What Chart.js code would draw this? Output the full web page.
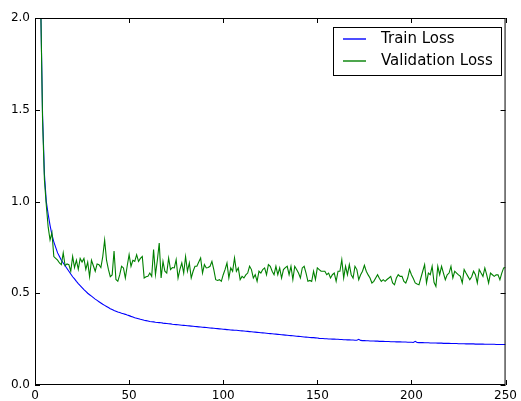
<!DOCTYPE html>
<html>
<head>
<meta charset="utf-8">
<script src="https://cdn.jsdelivr.net/npm/chart.js@4/dist/chart.umd.min.js"></script>
<style>
  body { margin: 0; background: #fff; }
  canvas { display: block; }
</style>
</head>
<body>
<canvas id="lossChart" width="521" height="401"></canvas>
<script>
// epochs 1..250
var epochs = Array.from({ length: 250 }, function (_, i) { return i + 1; });

var trainLoss = [
  4.10, 2.90, 2.10, 1.48, 1.15, 1.00, 0.93, 0.87, 0.82, 0.78,
  0.75, 0.72, 0.70, 0.68, 0.665, 0.65, 0.635, 0.62, 0.605, 0.59,
  0.578, 0.565, 0.553, 0.542, 0.531, 0.52, 0.51, 0.50, 0.492, 0.484,
  0.476, 0.468, 0.461, 0.454, 0.447, 0.440, 0.434, 0.428, 0.422, 0.416,
  0.411, 0.406, 0.402, 0.398, 0.395, 0.391, 0.388, 0.385, 0.381, 0.378,
  0.374, 0.371, 0.367, 0.364, 0.361, 0.358, 0.356, 0.353, 0.351, 0.349,
  0.346, 0.345, 0.344, 0.342, 0.341, 0.340, 0.339, 0.337, 0.336, 0.335,
  0.334, 0.333, 0.331, 0.330, 0.329, 0.328, 0.327, 0.326, 0.325, 0.324,
  0.323, 0.322, 0.321, 0.320, 0.319, 0.318, 0.317, 0.316, 0.315, 0.314,
  0.313, 0.312, 0.311, 0.310, 0.309, 0.308, 0.307, 0.306, 0.305, 0.304,
  0.303, 0.302, 0.301, 0.300, 0.299, 0.298, 0.298, 0.297, 0.296, 0.295,
  0.294, 0.293, 0.292, 0.291, 0.290, 0.289, 0.288, 0.287, 0.286, 0.285,
  0.284, 0.283, 0.282, 0.281, 0.280, 0.279, 0.278, 0.277, 0.276, 0.275,
  0.274, 0.273, 0.272, 0.271, 0.270, 0.269, 0.268, 0.267, 0.266, 0.265,
  0.264, 0.263, 0.262, 0.261, 0.260, 0.259, 0.258, 0.258, 0.257, 0.256,
  0.254, 0.253, 0.253, 0.252, 0.252, 0.251, 0.251, 0.250, 0.250, 0.249,
  0.249, 0.248, 0.248, 0.247, 0.247, 0.246, 0.246, 0.245, 0.245, 0.244,
  0.244, 0.249, 0.243, 0.242, 0.242, 0.241, 0.241, 0.240, 0.240, 0.240,
  0.239, 0.239, 0.238, 0.238, 0.238, 0.237, 0.237, 0.237, 0.236, 0.236,
  0.236, 0.235, 0.235, 0.235, 0.234, 0.234, 0.234, 0.233, 0.233, 0.233,
  0.232, 0.238, 0.232, 0.231, 0.231, 0.231, 0.230, 0.230, 0.230, 0.229,
  0.229, 0.229, 0.229, 0.228, 0.228, 0.228, 0.227, 0.227, 0.227, 0.227,
  0.226, 0.226, 0.226, 0.226, 0.225, 0.225, 0.225, 0.225, 0.224, 0.224,
  0.224, 0.224, 0.224, 0.223, 0.223, 0.223, 0.223, 0.223, 0.222, 0.222,
  0.222, 0.222, 0.222, 0.222, 0.221, 0.221, 0.221, 0.221, 0.221, 0.221
];

var valLoss = [
  3.20, 2.40, 2.10, 1.45, 1.12, 0.98, 0.86, 0.79, 0.83, 0.70,
  0.69, 0.68, 0.665, 0.656, 0.72, 0.65, 0.66, 0.656, 0.62, 0.70,
  0.64, 0.68, 0.63, 0.69, 0.67, 0.69, 0.63, 0.67, 0.59, 0.68,
  0.65, 0.62, 0.66, 0.656, 0.64, 0.70, 0.79, 0.68, 0.63, 0.59,
  0.60, 0.73, 0.575, 0.565, 0.60, 0.647, 0.638, 0.583, 0.65, 0.71,
  0.647, 0.68, 0.674, 0.71, 0.674, 0.69, 0.70, 0.583, 0.59, 0.592,
  0.61, 0.592, 0.738, 0.601, 0.68, 0.774, 0.583, 0.674, 0.62, 0.61,
  0.692, 0.629, 0.64, 0.638, 0.683, 0.583, 0.63, 0.665, 0.61, 0.70,
  0.62, 0.665, 0.583, 0.62, 0.647, 0.647, 0.67, 0.692, 0.61, 0.656,
  0.638, 0.64, 0.647, 0.674, 0.629, 0.574, 0.57, 0.574, 0.565, 0.601,
  0.63, 0.665, 0.583, 0.638, 0.62, 0.692, 0.62, 0.638, 0.574, 0.592,
  0.583, 0.60, 0.61, 0.647, 0.629, 0.583, 0.601, 0.565, 0.62, 0.61,
  0.629, 0.638, 0.601, 0.656, 0.647, 0.62, 0.601, 0.647, 0.601, 0.638,
  0.583, 0.629, 0.64, 0.647, 0.601, 0.647, 0.574, 0.647, 0.63, 0.61,
  0.583, 0.638, 0.647, 0.61, 0.565, 0.57, 0.565, 0.62, 0.574, 0.638,
  0.629, 0.62, 0.62, 0.62, 0.601, 0.61, 0.583, 0.601, 0.61, 0.565,
  0.62, 0.62, 0.683, 0.583, 0.647, 0.601, 0.656, 0.601, 0.583, 0.647,
  0.629, 0.574, 0.601, 0.62, 0.652, 0.62, 0.60, 0.583, 0.556, 0.565,
  0.583, 0.601, 0.58, 0.565, 0.574, 0.565, 0.575, 0.583, 0.592, 0.556,
  0.546, 0.583, 0.601, 0.592, 0.592, 0.565, 0.556, 0.583, 0.629, 0.601,
  0.58, 0.556, 0.55, 0.546, 0.583, 0.62, 0.656, 0.556, 0.61, 0.601,
  0.647, 0.56, 0.537, 0.647, 0.601, 0.647, 0.61, 0.574, 0.601, 0.61,
  0.647, 0.583, 0.62, 0.61, 0.60, 0.592, 0.556, 0.629, 0.61, 0.592,
  0.574, 0.59, 0.62, 0.601, 0.556, 0.629, 0.61, 0.592, 0.638, 0.60,
  0.556, 0.61, 0.601, 0.592, 0.60, 0.601, 0.574, 0.61, 0.638, 0.64
];

var seriesNames = ['Train Loss', 'Validation Loss'];
var seriesColors = ['#0000ff', '#008000'];

var xTicks = [0, 50, 100, 150, 200, 250];
var yTicks = [0.0, 0.5, 1.0, 1.5, 2.0];

function toPoints(values) {
  return values.map(function (v, i) { return { x: epochs[i], y: v }; });
}

// matplotlib-ish frame, inward ticks on all four sides, boxed legend
var frameAndLegend = {
  id: 'frameAndLegend',
  afterDatasetsDraw: function (chart) {
    var ctx = chart.ctx;
    var a = chart.chartArea;
    var xs = chart.scales.x, ys = chart.scales.y;
    ctx.save();
    ctx.strokeStyle = '#000';
    ctx.lineWidth = 1;
    ctx.strokeRect(a.left + 0.5, a.top + 0.5, a.right - a.left - 1, a.bottom - a.top - 1);

    var tl = 5;
    ctx.beginPath();
    xTicks.forEach(function (t) {
      var px = Math.round(xs.getPixelForValue(t)) + 0.5;
      ctx.moveTo(px, a.bottom); ctx.lineTo(px, a.bottom - tl);
      ctx.moveTo(px, a.top); ctx.lineTo(px, a.top + tl);
    });
    yTicks.forEach(function (t) {
      var py = Math.round(ys.getPixelForValue(t)) + 0.5;
      ctx.moveTo(a.left, py); ctx.lineTo(a.left + tl, py);
      ctx.moveTo(a.right, py); ctx.lineTo(a.right - tl, py);
    });
    ctx.stroke();

    // legend
    ctx.fillStyle = '#fff';
    ctx.fillRect(333, 27, 168, 48);
    ctx.strokeStyle = '#000';
    ctx.strokeRect(333.5, 27.5, 168, 48);
    ctx.font = '15px "DejaVu Sans"';
    ctx.textBaseline = 'middle';
    seriesNames.forEach(function (name, i) {
      var y = 39 + i * 22;
      ctx.beginPath();
      ctx.strokeStyle = seriesColors[i];
      ctx.lineWidth = 1.4;
      ctx.moveTo(343, y);
      ctx.lineTo(366, y);
      ctx.stroke();
      ctx.fillStyle = '#000';
      ctx.fillText(name, 381, y);
    });
    ctx.restore();
  }
};

var ctx = document.getElementById('lossChart').getContext('2d');
var lossChart = new Chart(ctx, {
  type: 'line',
  data: {
    datasets: [{
      label: seriesNames[0],
      data: toPoints(trainLoss),
      borderColor: seriesColors[0],
      borderWidth: 1.1,
      pointRadius: 0,
      order: 1
    }, {
      label: seriesNames[1],
      data: toPoints(valLoss),
      borderColor: seriesColors[1],
      borderWidth: 1.1,
      pointRadius: 0,
      order: 0
    }]
  },
  options: {
    responsive: false,
    animation: false,
    devicePixelRatio: 1,
    layout: {
      padding: { left: 0, right: 13, top: 18, bottom: 0 }
    },
    plugins: {
      legend: { display: false },
      tooltip: { enabled: false }
    },
    scales: {
      x: {
        type: 'linear',
        min: 0,
        max: 250,
        afterBuildTicks: function (s) { s.ticks = xTicks.map(function (v) { return { value: v }; }); },
        afterFit: function (s) { s.height = 16; },
        grid: { display: false, drawTicks: false },
        border: { display: false },
        ticks: {
          color: '#000',
          padding: 4,
          maxRotation: 0,
          font: { family: 'DejaVu Sans', size: 12 }
        }
      },
      y: {
        min: 0,
        max: 2,
        afterBuildTicks: function (s) { s.ticks = yTicks.map(function (v) { return { value: v }; }); },
        afterFit: function (s) { s.width = 35; },
        grid: { display: false, drawTicks: false },
        border: { display: false },
        ticks: {
          color: '#000',
          padding: 5,
          font: { family: 'DejaVu Sans', size: 12 },
          callback: function (v) { return Number(v).toFixed(1); }
        }
      }
    }
  },
  plugins: [frameAndLegend]
});
</script>
</body>
</html>
